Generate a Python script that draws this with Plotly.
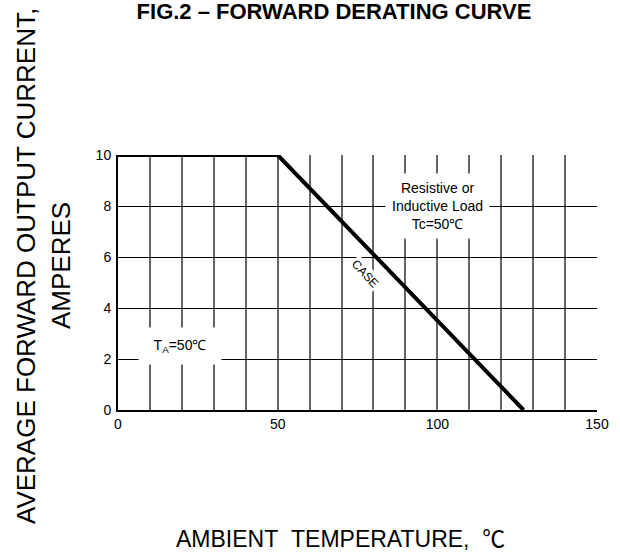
import plotly.graph_objects as go

# ---- data ----
temperature_c = [0, 50, 127]          # ambient / case temperature, deg C
current_a = [10, 10, 0]               # average forward output current, A
x_tick_vals = [0, 50, 100, 150]
y_tick_vals = [0, 2, 4, 6, 8, 10]

title_text = "FIG.2 \u2013 FORWARD DERATING CURVE"
y_title_1 = "AVERAGE FORWARD OUTPUT CURRENT,"
y_title_2 = "AMPERES"
x_title = "AMBIENT&nbsp;&nbsp;TEMPERATURE,&nbsp;&nbsp;<span style='font-family:Noto Sans CJK SC'>\u2103</span>"
load_label = "Resistive or<br>Inductive Load<br>Tc=50\u2103"
ta_label = "T<sub>A</sub>=50\u2103"
case_label = "CASE"

W, H = 620, 556
L, R, T, B = 118, 23, 155, 146
pw, ph = W - L - R, H - T - B

def px_x(p):
    return (p - L) / pw

def px_y(p):
    return (H - B - p) / ph

FONT = "Liberation Sans, Arial, sans-serif"

fig = go.Figure()
fig.add_trace(go.Scatter(
    x=temperature_c, y=current_a, mode="lines",
    line=dict(color="black", width=4), hoverinfo="skip", showlegend=False,
))

fig.update_layout(
    width=W, height=H,
    margin=dict(l=L, r=R, t=T, b=B),
    paper_bgcolor="white", plot_bgcolor="white",
    font=dict(family=FONT, color="black"),
    title=dict(text="<b>" + title_text + "</b>", x=334 / W, xanchor="center",
               y=1 - 11 / H, yanchor="middle",
               font=dict(family=FONT, size=22, color="black")),
    showlegend=False,
)

fig.update_xaxes(
    range=[0, 150], tickvals=x_tick_vals, ticktext=[str(v) for v in x_tick_vals],
    showgrid=True, gridcolor="#666666", gridwidth=1.6,
    minor=dict(dtick=10, showgrid=True, gridcolor="#666666", gridwidth=1.6),
    zeroline=False, showline=True, linecolor="black", linewidth=2,
    ticks="", tickfont=dict(size=14, family=FONT, color="black"),
)
fig.update_yaxes(
    range=[0, 10], tickvals=y_tick_vals, ticktext=[str(v) for v in y_tick_vals],
    showgrid=True, gridcolor="black", gridwidth=1,
    zeroline=False, showline=True, linecolor="black", linewidth=2,
    ticks="", tickfont=dict(size=14, family=FONT, color="black"),
    ticklabelstandoff=2,
)

annos = [
    dict(text=y_title_1, x=px_x(26), y=px_y(266), xref="paper", yref="paper",
         textangle=-90, showarrow=False, font=dict(size=26, family=FONT),
         xanchor="center", yanchor="middle"),
    dict(text=y_title_2, x=px_x(61), y=px_y(266), xref="paper", yref="paper",
         textangle=-90, showarrow=False, font=dict(size=26, family=FONT),
         xanchor="center", yanchor="middle"),
    dict(text=x_title, x=px_x(340), y=px_y(537), xref="paper", yref="paper",
         showarrow=False, font=dict(size=23, family=FONT),
         xanchor="center", yanchor="middle"),
    dict(text=load_label, x=100, y=8, xref="x", yref="y", showarrow=False,
         font=dict(size=14, family=FONT), bgcolor="white", borderpad=6,
         align="center"),
    dict(text=ta_label, x=19.5, y=2.5, xref="x", yref="y", showarrow=False,
         font=dict(size=14, family=FONT), bgcolor="white", width=78, height=32,
         borderpad=2),
    dict(text=case_label, x=77.5, y=5.35, xref="x", yref="y", showarrow=False,
         textangle=47, font=dict(size=12, family=FONT), bgcolor="white",
         borderpad=1),
]
fig.update_layout(annotations=annos)

fig.write_html(
    "out.html",
    config={"displayModeBar": False},
    post_script="document.body.style.margin='0';document.body.style.overflow='hidden';",
)
